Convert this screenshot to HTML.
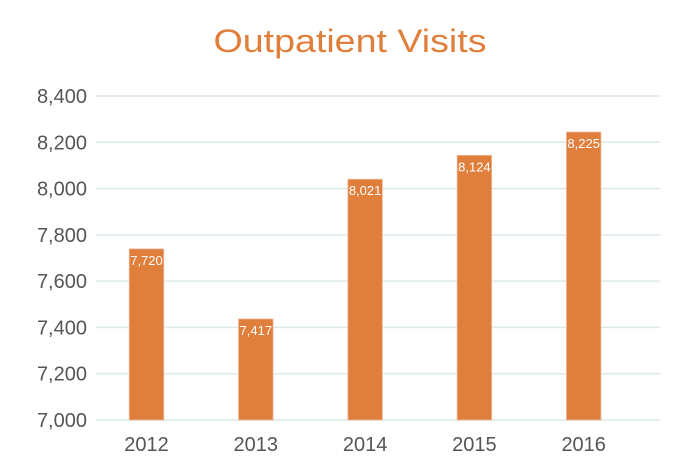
<!DOCTYPE html>
<html><head><meta charset="utf-8">
<style>
html,body{margin:0;padding:0;background:#fff;}
svg{display:block;font-family:"Liberation Sans",sans-serif;}
</style></head>
<body>
<svg id="chart" width="700" height="475" viewBox="0 0 700 475">
<text x="350" y="52" text-anchor="middle" font-size="32" fill="#E07E3C" textLength="273" lengthAdjust="spacingAndGlyphs">Outpatient Visits</text>
<g id="grid"></g>
<g id="yaxis"></g>
<g id="bars"></g>
<g id="xaxis"></g>
</svg>
<script>
const categories = ["2012","2013","2014","2015","2016"];
const values = [7720,7417,8021,8124,8225];
const valueLabels = ["7,720","7,417","8,021","8,124","8,225"];
const yTicks = [7000,7200,7400,7600,7800,8000,8200,8400];
const yTickLabels = ["7,000","7,200","7,400","7,600","7,800","8,000","8,200","8,400"];

const NS="http://www.w3.org/2000/svg";
const yMin=7000,yMax=8400,yBottom=420,yTop=96;
function y(v){return yBottom-(v-yMin)/(yMax-yMin)*(yBottom-yTop);}
const barOffset=4.5;
const firstCenter=146.5,step=109.3,barW=34.5;
function x(i){return firstCenter+i*step;}
function mk(tag,attrs,parent){const e=document.createElementNS(NS,tag);for(const k in attrs)e.setAttribute(k,attrs[k]);parent.appendChild(e);return e;}

const grid=document.getElementById('grid'),yaxis=document.getElementById('yaxis'),bars=document.getElementById('bars'),xaxis=document.getElementById('xaxis');
yTicks.forEach((t,i)=>{
  const l=mk('line',{x1:96,x2:660,y1:y(t),y2:y(t),stroke:"#dbe9eb","stroke-width":1.5},grid);
  
  
  const tx=mk('text',{x:87,y:y(t)+7,"text-anchor":"end","font-size":20,fill:"#555"},yaxis);
  tx.textContent=yTickLabels[i];
  
  
});
categories.forEach((c,i)=>{
  const top=y(values[i])-barOffset;
  const r=mk('rect',{x:x(i)-barW/2,y:top,width:barW,height:yBottom-top,fill:"#E07E3C",stroke:"#eeb99a","stroke-width":0.8},bars);
  
  
  const vl=mk('text',{x:x(i),y:top+16,"text-anchor":"middle","font-size":13,fill:"#fff"},bars);
  vl.textContent=valueLabels[i];
  
  
  const xl=mk('text',{x:x(i),y:451,"text-anchor":"middle","font-size":20,fill:"#555"},xaxis);
  xl.textContent=c;
  
  
});
</script>
</body></html>
